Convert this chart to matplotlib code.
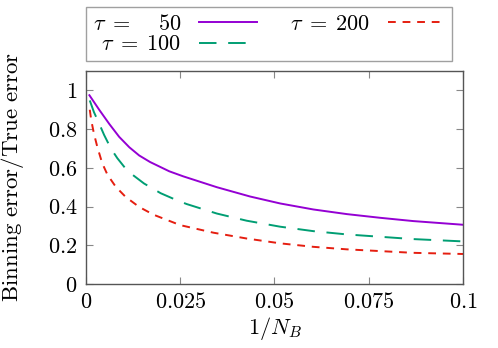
import matplotlib
matplotlib.use('Agg')
import matplotlib.pyplot as plt

plt.rcParams['mathtext.fontset'] = 'cm'
plt.rcParams['font.family'] = ['cmr10', 'DejaVu Serif']
plt.rcParams['axes.unicode_minus'] = False

# values
x_tau50 = [0.0009, 0.0035, 0.0062, 0.0088, 0.0115, 0.0141, 0.017, 0.0221,
           0.0258, 0.0347, 0.0435, 0.0515, 0.0603, 0.0692, 0.078, 0.0868, 0.1]
y_tau50 = [0.975, 0.900, 0.826, 0.760, 0.706, 0.664, 0.630, 0.582,
           0.556, 0.500, 0.452, 0.416, 0.385, 0.361, 0.342, 0.325, 0.306]

x_tau100 = [0.001, 0.0021, 0.0035, 0.0048, 0.0066, 0.0083, 0.011, 0.0154,
            0.0198, 0.0238, 0.0267, 0.0347, 0.0426, 0.0515, 0.0603, 0.0692,
            0.078, 0.0868, 0.1]
y_tau100 = [0.948, 0.888, 0.828, 0.770, 0.700, 0.650, 0.584, 0.519,
            0.469, 0.435, 0.413, 0.364, 0.327, 0.296, 0.273, 0.256,
            0.244, 0.232, 0.220]

x_tau200 = [0.001, 0.0014, 0.0021, 0.003, 0.0043, 0.0057, 0.0079, 0.0105,
            0.0141, 0.0179, 0.025, 0.0338, 0.0426, 0.0515, 0.0603, 0.0692,
            0.078, 0.0868, 0.1]
y_tau200 = [0.900, 0.845, 0.777, 0.708, 0.624, 0.564, 0.502, 0.450,
            0.398, 0.358, 0.304, 0.265, 0.235, 0.210, 0.192, 0.179,
            0.170, 0.161, 0.155]

x_ticks = [0, 0.025, 0.05, 0.075, 0.1]
x_labels = ['0', '0.025', '0.05', '0.075', '0.1']
y_ticks = [0, 0.2, 0.4, 0.6, 0.8, 1]
y_labels = ['0', '0.2', '0.4', '0.6', '0.8', '1']

fig = plt.figure(figsize=(4.98, 3.48), dpi=100)
ax = fig.add_axes([0.1727, 0.1839, 0.757, 0.612])

l1, = ax.plot(x_tau50, y_tau50, color='#9400d3', lw=1.4,
              label=r'$\tau \;=\; \ \ \ 50$')
l2, = ax.plot(x_tau100, y_tau100, color='#009e73', lw=1.4,
              dashes=(9, 6), label=r'$\tau \;=\; 100$')
l3, = ax.plot(x_tau200, y_tau200, color='#e51e10', lw=1.4,
              dashes=(4, 3.5), label=r'$\tau \;=\; 200$')

ax.set_xlim(0, 0.1)
ax.set_ylim(0, 1.1)
ax.set_xticks(x_ticks)
ax.set_xticklabels(['$%s$' % s for s in x_labels])
ax.set_yticks(y_ticks)
ax.set_yticklabels(['$%s$' % s for s in y_labels])
ax.tick_params(direction='in', length=5, width=0.8, color='#888888',
               top=True, right=True, labelsize=16, pad=6)
for sp in ax.spines.values():
    sp.set_color('#555555')
    sp.set_linewidth(1.0)

ax.set_xlabel(r'$1/N_B$', fontsize=16, labelpad=2)
ax.set_ylabel(r'$\mathrm{Binning\ error/True\ error}$', fontsize=16.5)
ax.yaxis.set_label_coords(-0.158, 0.505)

fig.legend(handles=[l1, l2, l3], ncol=2, markerfirst=False,
           loc='upper left', bbox_to_anchor=(0.1727, 0.98),
           fontsize=16, frameon=True, fancybox=False,
           edgecolor='#888888', handlelength=2.6, handletextpad=0.8,
           columnspacing=1.5, borderpad=0.3, labelspacing=0.05,
           borderaxespad=0)

fig.savefig('out.png', dpi=100)
